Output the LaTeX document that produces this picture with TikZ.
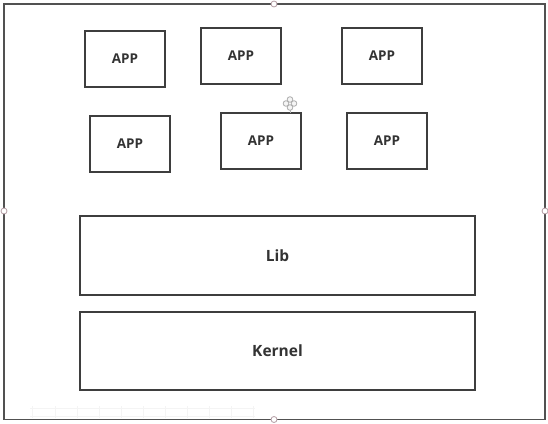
\documentclass[tikz,border=0pt]{standalone}
\usepackage{fontspec}
\setmainfont{Open Sans}
\usetikzlibrary{calc}
\definecolor{boxline}{HTML}{3E3E3E}
\definecolor{txt}{HTML}{333333}
\definecolor{handle}{HTML}{B39CA3}
\begin{document}
\begin{tikzpicture}[x=1pt,y=-1pt,
  appbox/.style={draw=boxline, line width=1.6pt, minimum width=80pt, minimum height=56pt,
    inner sep=0pt, font=\fontsize{13.5}{15}\selectfont\bfseries, text=txt},
  layerbox/.style={draw=boxline, line width=1.6pt, minimum width=395pt, minimum height=79pt,
    inner sep=0pt, font=\fontsize{15.5}{18}\selectfont\bfseries, text=txt},
  handlept/.style={circle, draw=handle, fill=white, line width=0.8pt, minimum size=6pt, inner sep=0pt},
  frameline/.style={draw=boxline!90, line width=1.4pt}]
\useasboundingbox (0,0) rectangle (548,423);
\fill[white] (0,0) rectangle (548,423);
% faint grid at bottom
\begin{scope}[draw=gray!9, line width=0.6pt]
  \draw (30,408) -- (255,408);
  \draw (30,416) -- (255,416);
  \foreach \x in {32,55,77,99,121,143,165,187,209,231,253}
    \draw (\x,406) -- (\x,418);
\end{scope}
% outer frame
\coordinate (tl) at (4,4);
\coordinate (br) at (545,419.5);
\draw[frameline] (tl) rectangle (br);
% app boxes
\node[appbox] (a1) at (125,59) {APP};
\node[appbox] (a2) at (241,56) {APP};
\node[appbox] (a3) at (382,56) {APP};
\node[appbox] (a4) at (130,144) {APP};
\node[appbox] (a5) at (261,141) {APP};
\node[appbox] (a6) at (387,141) {APP};
% layers
\node[layerbox] (lib) at (277.5,255.5) {Lib};
\node[layerbox, minimum height=78pt] (kernel) at (277.5,351) {Kernel};
% handles
\node[handlept] (ht) at (274,4) {};
\node[handlept] (hb) at (274,419.5) {};
\node[handlept] (hl) at (4,211) {};
\node[handlept] (hr) at (545,211) {};
% move icon
\coordinate (mv) at (290,103.5);
\draw[gray!60, line width=0.5pt] (mv) ++(0,6) -- (290,113);
\foreach \dx/\dy in {0/-4, 0/4, -4/0, 4/0}
  \draw[gray!65, line width=0.8pt, fill=gray!8] ($(mv)+(\dx,\dy)$) circle (2.8pt);
\end{tikzpicture}
\end{document}
